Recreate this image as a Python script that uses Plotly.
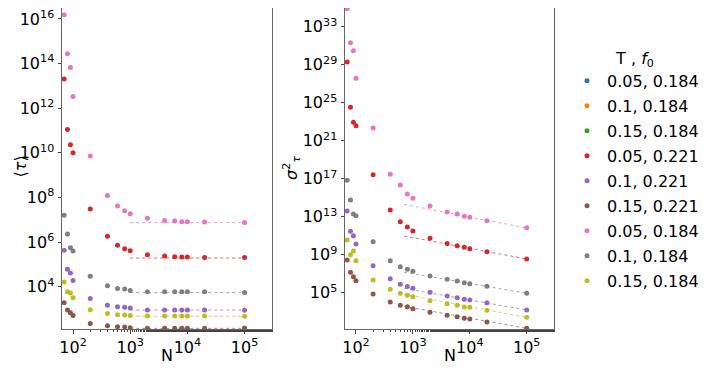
import plotly.graph_objects as go

# system sizes
N = [70, 80, 90, 100, 200, 400, 600, 800, 1000, 2000, 4000, 6000, 8000, 10000, 20000, 100000]

# legend labels (T , f0) and matplotlib tab10 colours
labels = ["0.05, 0.184", "0.1, 0.184", "0.15, 0.184",
          "0.05, 0.221", "0.1, 0.221", "0.15, 0.221",
          "0.05, 0.184", "0.1, 0.184", "0.15, 0.184"]
colors = ["#1f77b4", "#ff7f0e", "#2ca02c",
          "#d62728", "#9467bd", "#8c564b",
          "#e377c2", "#7f7f7f", "#bcbd22"]

# log10 <tau>  (first three series have no points)
tau_log = [
    [], [], [],
    [13.31, 11.04, 10.36, 10.0, 7.48, 6.26, 5.85, 5.70, 5.61, 5.43, 5.37, 5.34, 5.33, 5.33, 5.31, 5.30],
    [5.63, 4.78, 4.61, 4.27, 3.47, 3.17, 3.10, 3.07, 3.04, 2.95, 2.95, 2.95, 2.95, 2.95, 2.95, 2.94],
    [3.28, 2.95, 2.83, 2.70, 2.35, 2.25, 2.20, 2.19, 2.16, 2.13, 2.13, 2.13, 2.13, 2.13, 2.13, 2.14],
    [16.19, 14.44, 13.82, 12.52, 9.86, 8.08, 7.61, 7.40, 7.27, 7.06, 6.96, 6.94, 6.91, 6.91, 6.90, 6.87],
    [7.20, 6.36, 5.74, 5.60, 4.46, 4.04, 3.92, 3.89, 3.83, 3.77, 3.77, 3.77, 3.77, 3.77, 3.77, 3.74],
    [4.21, 3.77, 3.71, 3.50, 2.96, 2.80, 2.74, 2.73, 2.70, 2.68, 2.68, 2.68, 2.68, 2.68, 2.68, 2.67],
]
# log10 sigma^2_tau
var_log = [
    [], [], [],
    [29.28, 24.52, 22.94, 22.58, 17.42, 13.71, 12.47, 11.92, 11.49, 10.72, 10.19, 9.95, 9.78, 9.63, 9.32, 8.55],
    [13.6, 11.46, 11.0, 10.13, 7.84, 6.47, 5.88, 5.65, 5.46, 5.04, 4.65, 4.47, 4.30, 4.23, 3.95, 3.18],
    [8.44, 7.15, 6.68, 6.26, 4.86, 4.02, 3.67, 3.53, 3.32, 2.94, 2.62, 2.47, 2.31, 2.23, 1.92, 1.25],
    [34.89, 31.32, 30.47, 27.57, 22.34, 17.46, 16.34, 15.39, 14.94, 14.13, 13.49, 13.28, 13.04, 12.94, 12.58, 11.84],
    [16.83, 14.76, 13.28, 13.11, 10.37, 8.37, 7.74, 7.46, 7.25, 6.76, 6.41, 6.23, 6.05, 5.95, 5.67, 4.94],
    [10.55, 9.0, 9.39, 8.37, 6.33, 5.36, 4.94, 4.73, 4.58, 4.16, 3.84, 3.67, 3.50, 3.46, 3.15, 2.41],
]

# fitted lines: N range and log10 values at both ends
fit_N_tau = [1000, 100000]
fit_tau_log = [None, None, None, 5.28, 2.95, 2.13, 6.87, 3.73, 2.67]
fit_N_var = [700, 100000]
fit_var_log = [None, None, None,
               [10.97, 8.55], [5.46, 3.18], [3.57, 1.25],
               [14.30, 11.81], [7.15, 4.94], [4.83, 2.41]]

FONT = "DejaVu Sans"
W, H = 707, 372

fig = go.Figure()

for i in range(len(labels)):
    xs = N[:len(tau_log[i])] or [None]
    # left panel
    fig.add_trace(go.Scatter(
        x=xs, y=[10.0 ** v for v in tau_log[i]] or [None], mode="markers",
        marker=dict(color=colors[i], size=5), name=labels[i], cliponaxis=False,
        legendgroup=str(i), showlegend=True, xaxis="x", yaxis="y"))
    # right panel
    fig.add_trace(go.Scatter(
        x=xs, y=[10.0 ** v for v in var_log[i]] or [None], mode="markers",
        marker=dict(color=colors[i], size=5), name=labels[i], cliponaxis=False,
        legendgroup=str(i), showlegend=False, xaxis="x2", yaxis="y2"))
    if fit_tau_log[i] is not None:
        fig.add_trace(go.Scatter(
            x=fit_N_tau, y=[10.0 ** fit_tau_log[i]] * 2, mode="lines",
            line=dict(color=colors[i], width=1, dash="dot"), opacity=0.7,
            showlegend=False, hoverinfo="skip", xaxis="x", yaxis="y"))
        fig.add_trace(go.Scatter(
            x=fit_N_var, y=[10.0 ** v for v in fit_var_log[i]], mode="lines",
            line=dict(color=colors[i], width=1, dash="dot"), opacity=0.7,
            showlegend=False, hoverinfo="skip", xaxis="x2", yaxis="y2"))

xticks = [100, 1000, 10000, 100000]
xtext = ["10<sup>2</sup>", "10<sup>3</sup>", "10<sup>4</sup>", "10<sup>5</sup>"]
ytick_l = [4, 6, 8, 10, 12, 14, 16]
ytick_r = [5, 9, 13, 17, 21, 25, 29, 33]

axis_common = dict(
    type="log", showgrid=False, zeroline=False, showline=True, mirror=True,
    linecolor="#666", linewidth=1, ticks="outside", ticklen=3.5, tickcolor="#444",
    tickfont=dict(family=FONT, size=16, color="black"), automargin=False,
    ticklabeloverflow="allow",
)
xaxis_common = dict(axis_common, tickvals=xticks, ticktext=xtext, range=[1.807, 5.48],
                    minor=dict(ticks="outside", ticklen=2, tickcolor="#444"))

# page has an 8px body margin, so paper coords = screen coords - 8
fig.update_layout(
    width=W, height=H,
    margin=dict(l=0, r=0, t=0, b=0, autoexpand=False),
    plot_bgcolor="white", paper_bgcolor="white",
    font=dict(family=FONT, size=16, color="black"),
    xaxis=dict(xaxis_common, domain=[54 / W, 264 / W], anchor="y"),
    yaxis=dict(axis_common, domain=[51 / H, 1], anchor="x",
               range=[2.10, 16.49], tickvals=[10.0 ** v for v in ytick_l],
               ticktext=["10<sup>%d</sup>" % v for v in ytick_l]),
    xaxis2=dict(xaxis_common, domain=[337 / W, 546 / W], anchor="y2"),
    yaxis2=dict(axis_common, domain=[51 / H, 1], anchor="x2",
                range=[1.18, 34.97], tickvals=[10.0 ** v for v in ytick_r],
                ticktext=["10<sup>%d</sup>" % v for v in ytick_r]),
    legend=dict(
        x=559 / W, y=1 - 35 / H, xanchor="left", yanchor="top",
        font=dict(family=FONT, size=16, color="black"),
        title=dict(text="T , <i>f</i><sub>0</sub>", side="top center",
                   font=dict(family=FONT, size=16)),
        bgcolor="rgba(0,0,0,0)",
        traceorder="grouped", tracegroupgap=1.2,
    ),
    showlegend=True,
)

# axis titles
fig.add_annotation(x=159 / W, y=1 - 347 / H, xref="paper", yref="paper",
                   xanchor="center", yanchor="middle",
                   text="N", showarrow=False, font=dict(family=FONT, size=16))
fig.add_annotation(x=442 / W, y=1 - 347 / H, xref="paper", yref="paper",
                   xanchor="center", yanchor="middle",
                   text="N", showarrow=False, font=dict(family=FONT, size=16))
fig.add_annotation(x=0, y=1 - 159 / H, xref="paper", yref="paper",
                   xanchor="left", yanchor="middle",
                   text="⟨<i>τ</i>⟩", textangle=-90, showarrow=False,
                   font=dict(family=FONT, size=16))
fig.add_annotation(x=283 / W, y=1 - 160 / H, xref="paper", yref="paper",
                   xanchor="center", yanchor="middle",
                   text="<i>σ</i><sup>2</sup><sub><i>τ</i></sub>", textangle=-90,
                   showarrow=False, font=dict(family=FONT, size=16))

fig.write_html("out.html")
